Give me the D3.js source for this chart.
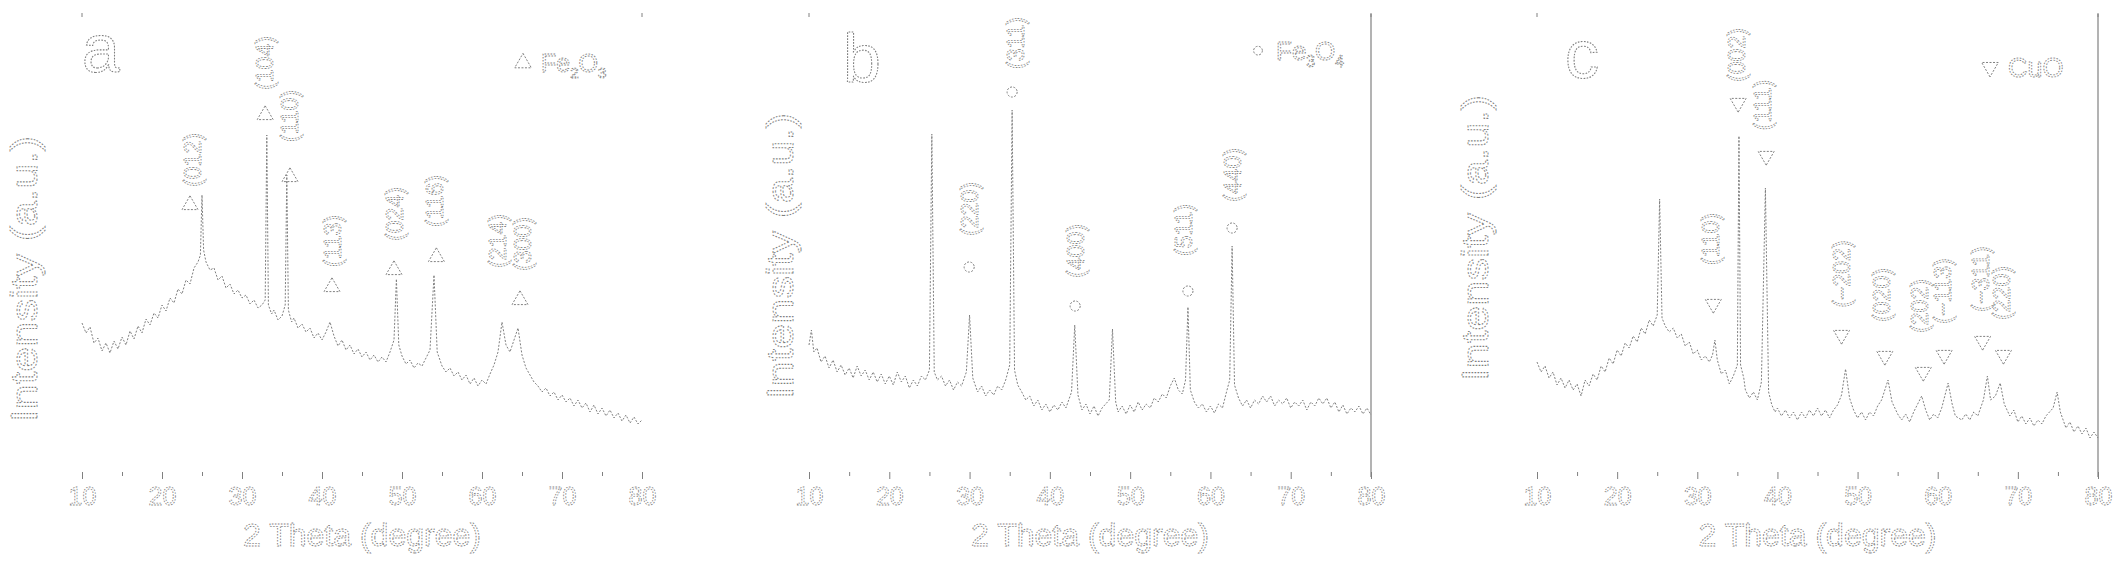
<!DOCTYPE html>
<html><head><meta charset="utf-8">
<script src="https://cdn.jsdelivr.net/npm/d3@7"></script>
<style>
html,body{margin:0;padding:0;background:#fff;}
svg{display:block;font-family:"Liberation Sans",Arial,sans-serif;}
</style></head><body>
<svg id="chart" width="2121" height="567"></svg>
<script>
// ---------- data ----------
const tickValues = [10,20,30,40,50,60,70,80];
const minorTickValues = [15,25,35,45,55,65,75];
const xTitle = "2 Theta (degree)";
const yTitle = "Intensity (a.u.)";
const panelLetters = ["a","b","c"];

// panel a : Fe2O3  [2theta, intensity a.u.]
const patternA = [[10,152],[10.5,142],[11,148],[11.5,132],[12,137],[12.5,124],[13,132],[13.5,122],[14,134],[14.5,126],[15,138],[15.5,130],[16,144],[16.5,136],[17,149],[17.5,142],[18,156],[18.5,150],[19,162],[19.5,157],[20,170],[20.5,164],[21,177],[21.5,172],[22,186],[22.5,181],[23,195],[23.5,191],[24,207],[24.5,213],[24.8,220],[25.0,280],[25.2,225],[25.5,213],[26,205],[26.5,207],[27,195],[27.5,199],[28,187],[28.5,191],[29,181],[29.5,185],[30,177],[30.5,180],[31,171],[31.5,175],[32,167],[32.5,170],[32.9,175],[33.1,340],[33.3,170],[33.7,161],[34,165],[34.5,155],[35,159],[35.4,170],[35.6,300],[35.8,165],[36.2,153],[36.5,157],[37,147],[37.5,151],[38,143],[38.5,147],[39,137],[39.5,142],[40,135],[40.5,143],[41,153],[41.5,139],[42,129],[42.5,135],[43,125],[43.5,130],[44,121],[44.5,126],[45,118],[45.5,123],[46,115],[46.5,120],[47,113],[47.5,118],[48,113],[48.5,123],[49,135],[49.3,196],[49.6,130],[50,119],[50.5,111],[51,115],[51.5,107],[52,112],[52.5,109],[53,117],[53.5,125],[54.0,200],[54.4,123],[55,109],[55.5,103],[56,107],[56.5,99],[57,103],[57.5,95],[58,100],[58.5,91],[59,97],[59.5,89],[60,95],[60.5,91],[61,101],[61.5,110],[62,123],[62.5,153],[63,130],[63.5,123],[64,135],[64.5,147],[65,120],[65.5,107],[66,100],[66.5,93],[67,89],[67.5,83],[68,87],[68.5,79],[69,83],[69.5,75],[70,80],[70.5,73],[71,77],[71.5,69],[72,75],[72.5,67],[73,72],[73.5,63],[74,70],[74.5,61],[75,67],[75.5,59],[76,65],[76.5,57],[77,62],[77.5,54],[78,60],[78.5,52],[79,58],[79.5,51],[80,55]];
const labelsA = [["(012)",23.9,315],["(104)",32.9,412],["(110)",36.0,359],["(113)",41.4,234],["(024)",49.1,261],["(116)",54.1,274],["(214)",62.0,234],["(300)",65.1,231]];
const markersA = [[23.5,270],[32.9,360],[36.0,298],[41.25,188],[49.0,205],[54.3,218],[64.75,175]];

// panel b : Fe3O4
const patternB = [[10,130],[10.3,145],[10.6,123],[11,127],[11.5,113],[12,119],[12.5,107],[13,115],[13.5,103],[14,110],[14.5,100],[15,107],[15.5,97],[16,109],[16.5,99],[17,105],[17.5,95],[18,103],[18.5,93],[19,101],[19.5,91],[20,99],[20.5,90],[21,103],[21.5,93],[22,99],[22.5,87],[23,95],[23.5,89],[24,99],[24.5,95],[25.0,105],[25.3,341],[25.6,103],[26,95],[26.5,99],[27,89],[27.5,95],[28,85],[28.5,93],[29,89],[29.6,103],[30.0,160],[30.4,97],[31,83],[31.5,89],[32,79],[32.5,85],[33,80],[33.5,89],[34,85],[34.5,95],[35.0,110],[35.3,365],[35.6,105],[36,90],[36.5,83],[37,75],[37.5,79],[38,69],[38.5,75],[39,65],[39.5,71],[40,63],[40.5,70],[41,65],[41.5,73],[42,67],[42.7,83],[43.1,150],[43.5,80],[44,65],[44.5,71],[45,61],[45.5,69],[46,59],[46.5,67],[47.4,75],[47.8,146],[48.2,73],[48.5,63],[49,69],[49.5,61],[50,70],[50.5,63],[51,73],[51.5,65],[52,71],[52.5,67],[53,77],[53.5,73],[54,81],[54.5,77],[55,89],[55.5,97],[56,85],[56.5,81],[56.9,95],[57.2,168],[57.5,85],[58,73],[58.5,67],[59,71],[59.5,63],[60,69],[60.5,62],[61,71],[61.5,67],[62,83],[62.4,95],[62.7,229],[63.0,90],[63.5,77],[64,69],[64.5,75],[65,67],[65.5,75],[66,71],[66.5,79],[67,73],[67.5,79],[68,69],[68.5,75],[69,71],[69.5,77],[70,67],[70.5,73],[71,69],[71.5,75],[72,65],[72.5,73],[73,69],[73.5,77],[74,71],[74.5,77],[75,67],[75.5,73],[76,63],[76.5,70],[77,61],[77.5,67],[78,63],[78.5,69],[79,61],[79.5,67],[80,60]];
const labelsB = [["(220)",30.05,266],["(311)",35.8,432],["(400)",43.25,224],["(511)",56.7,245],["(440)",62.8,300]];
const markersB = [[29.95,208],[35.3,383],[43.15,169],[57.2,184],[62.7,247]];

// panel c : CuO
const patternC = [[10,113],[10.5,103],[11,109],[11.5,97],[12,103],[12.5,90],[13,97],[13.5,87],[14,95],[14.5,85],[15,91],[15.5,79],[16,95],[16.5,89],[17,101],[17.5,95],[18,109],[18.5,103],[19,117],[19.5,111],[20,125],[20.5,119],[21,132],[21.5,127],[22,139],[22.5,133],[23,147],[23.5,141],[24,155],[24.5,149],[25.0,160],[25.3,276],[25.6,157],[26,149],[26.5,143],[27,147],[27.5,137],[28,141],[28.5,129],[29,133],[29.5,121],[30,125],[30.5,115],[31,119],[31.5,113],[31.9,120],[32.2,135],[32.5,115],[33,101],[33.5,105],[34,91],[34.5,99],[35.0,110],[35.2,339],[35.4,110],[35.8,97],[36,85],[36.5,77],[37,83],[37.5,75],[38.0,93],[38.5,287],[38.9,83],[39.3,70],[39.7,63],[40,67],[40.5,59],[41,65],[41.5,57],[42,63],[42.5,55],[43,63],[43.5,57],[44,65],[44.5,59],[45,67],[45.5,59],[46,65],[46.5,57],[47,65],[47.5,70],[48.0,80],[48.5,106],[49.0,77],[49.5,65],[50,57],[50.5,63],[51,55],[51.5,63],[52,59],[52.5,69],[53.0,75],[53.8,95],[54.3,73],[55,61],[55.5,55],[56,61],[56.5,53],[57,63],[57.5,71],[58,79],[58.5,65],[59,55],[59.5,61],[60,57],[60.5,67],[61.3,92],[61.8,71],[62.2,59],[63,55],[63.5,61],[64,55],[64.5,63],[65,59],[65.7,75],[66.2,99],[66.6,75],[67.2,79],[67.8,92],[68.3,71],[69,59],[69.5,65],[70,53],[70.5,59],[71,51],[71.5,57],[72,49],[72.5,55],[73,51],[73.5,59],[74.4,67],[74.9,83],[75.3,63],[76,47],[76.5,53],[77,43],[77.5,49],[78,41],[78.5,47],[79,37],[79.5,43],[80,37]];
const labelsC = [["(110)",31.7,236],["(002)",35.0,420],["(111)",38.2,370],["(\u2212202)",48.0,201],["(020)",53.0,180],["(202)",57.8,169],["(\u2212113)",60.6,184],["(\u2212311)",65.4,196],["(220)",68.0,182]];
const markersC = [[32.0,171],[35.1,372],[38.6,319],[48.0,140],[53.4,119],[58.2,103],[60.8,120],[65.6,134],[68.2,120]];

// legends: [text, subscript] pieces
const legendA = [["Fe",false],["2",true],["O",false],["3",true]];
const legendB = [["Fe",false],["3",true],["O",false],["4",true]];
const legendC = [["CuO",false]];

// ---------- layout ----------
const INK = "#808080";
const svg = d3.select("#chart");
const yScale = d3.scaleLinear().domain([0, 460]).range([475, 15]);
const AXIS_Y = 472;

const panels = [
  {range:[82,642], pattern:patternA, labels:labelsA, markers:markersA, symbol:"up",
   letter:panelLetters[0], letterPos:[82,72], legend:legendA, legendPos:[523,72], legendFont:25,
   yLab:[24,279], border:false},
  {range:[809,1371], pattern:patternB, labels:labelsB, markers:markersB, symbol:"circle",
   letter:panelLetters[1], letterPos:[843,82], legend:legendB, legendPos:[1258,60], legendFont:26,
   yLab:[780,256], border:true},
  {range:[1537,2098], pattern:patternC, labels:labelsC, markers:markersC, symbol:"down",
   letter:panelLetters[2], letterPos:[1565,78], legend:legendC, legendPos:[1990,77], legendFont:27,
   yLab:[1475,238], border:true}
];

function ghostText(sel, w){
  return sel.attr("fill","none").attr("stroke",INK).attr("stroke-width", w || 0.8)
            .attr("stroke-dasharray","1.6 1.4");
}

panels.forEach(p => {
  const x = d3.scaleLinear().domain([10, 80]).range(p.range);
  const g = svg.append("g");

  // axes (ticks only)
  const major = g.append("g").attr("transform",`translate(0,${AXIS_Y})`)
    .call(d3.axisBottom(x).tickValues(tickValues).tickSize(7).tickPadding(8).tickFormat(d3.format("d")));
  major.select(".domain").remove();
  major.selectAll(".tick line").attr("stroke",INK);
  major.selectAll(".tick text").attr("font-size",25).attr("font-family","Liberation Sans, Arial, sans-serif")
       .call(s => ghostText(s, 0.8));
  const minor = g.append("g").attr("transform",`translate(0,${AXIS_Y})`)
    .call(d3.axisBottom(x).tickValues(minorTickValues).tickSize(4).tickFormat(""));
  minor.select(".domain").remove();
  minor.selectAll(".tick line").attr("stroke",INK);

  // top corner marks
  [10,80].forEach(v => g.append("line").attr("x1",x(v)).attr("x2",x(v))
      .attr("y1",yScale(460)-2).attr("y2",yScale(460)+2).attr("stroke",INK));

  if (p.border){
    g.append("line").attr("x1",x(80)).attr("x2",x(80)).attr("y1",yScale(461)).attr("y2",AXIS_Y+5)
     .attr("stroke",INK).attr("stroke-width",1.2);
  }

  // pattern
  const line = d3.line().x(d => x(d[0])).y(d => yScale(d[1]));
  g.append("path").datum(p.pattern).attr("d", line).attr("fill","none")
   .attr("stroke",INK).attr("stroke-width",1).attr("stroke-dasharray","2 1.6");

  // markers
  const symType = p.symbol === "circle" ? d3.symbolCircle : d3.symbolTriangle;
  const symSize = p.symbol === "circle" ? 80 : 110;
  g.selectAll(".mk").data(p.markers).join("path")
    .attr("d", d3.symbol().type(symType).size(symSize))
    .attr("transform", d => `translate(${x(d[0])},${yScale(d[1])})` + (p.symbol === "down" ? " rotate(180)" : ""))
    .attr("fill","none").attr("stroke",INK).attr("stroke-width",1).attr("stroke-dasharray","2 1.5");

  // peak labels
  g.selectAll(".pl").data(p.labels).join("text")
    .attr("transform", d => `translate(${x(d[1])},${yScale(d[2])}) rotate(-90)`)
    .attr("text-anchor","middle").attr("dominant-baseline","central")
    .attr("font-size",23).text(d => d[0])
    .call(s => ghostText(s, 0.8));

  // x title
  g.append("text").attr("x", (p.range[0]+p.range[1])/2).attr("y", 546)
    .attr("text-anchor","middle").attr("font-size",32).text(xTitle)
    .call(s => ghostText(s, 0.9));

  // y title
  g.append("text").attr("transform",`translate(${p.yLab[0]},${p.yLab[1]}) rotate(-90) scale(1.22,1)`)
    .attr("text-anchor","middle").attr("dominant-baseline","central")
    .attr("font-size",37).text(yTitle)
    .call(s => ghostText(s, 0.9));

  // panel letter
  g.append("text").attr("x",p.letterPos[0]).attr("y",p.letterPos[1])
    .attr("font-size",68).text(p.letter).call(s => ghostText(s, 1.1));

  // legend
  const lx = p.legendPos[0], ly = p.legendPos[1];
  g.append("path")
    .attr("d", d3.symbol().type(symType).size(p.symbol === "circle" ? 60 : 120))
    .attr("transform", `translate(${lx},${ly - p.legendFont*0.36})` + (p.symbol === "down" ? " rotate(180)" : ""))
    .attr("fill","none").attr("stroke",INK).attr("stroke-width",1).attr("stroke-dasharray","2 1.5");
  const lt = g.append("text").attr("x", lx + 18).attr("y", ly).attr("font-size", p.legendFont)
    .call(s => ghostText(s, 0.9));
  p.legend.forEach(([t, sub], i) => {
    lt.append("tspan").text(t)
      .attr("font-size", sub ? p.legendFont*0.6 : p.legendFont)
      .attr("dy", sub ? p.legendFont*0.25 : (i > 0 ? -p.legendFont*0.25 : 0));
  });
});
</script>
</body></html>
